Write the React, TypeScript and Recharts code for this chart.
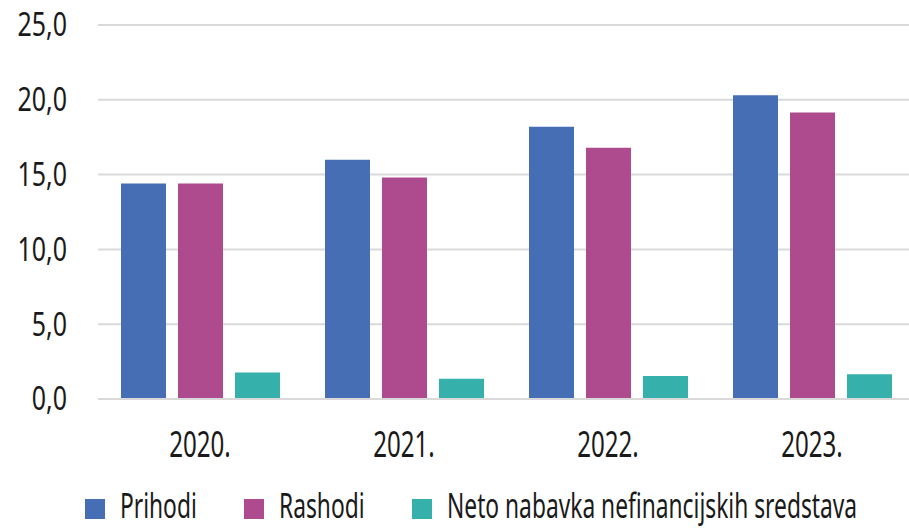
import { BarChart, Bar, XAxis, YAxis, CartesianGrid, Legend } from "recharts";

const years = ["2020.", "2021.", "2022.", "2023."];
const prihodi = [14.4, 16.0, 18.2, 20.3];
const rashodi = [14.4, 14.8, 16.8, 19.15];
const neto = [1.77, 1.35, 1.54, 1.65];
const yTicks = [0, 5, 10, 15, 20, 25];

// no condensed font installed, so the regular one is squeezed horizontally
const FONT = "'Noto Sans', 'DejaVu Sans', sans-serif";
const TEXT = "#1a1a1a";

const series = [
  { key: "prihodi", name: "Prihodi", color: "#466EB4" },
  { key: "rashodi", name: "Rashodi", color: "#AE4B8F" },
  { key: "neto", name: "Neto nabavka nefinancijskih sredstava", color: "#35B0AA" },
];

const data = years.map((year, i) => ({
  year,
  prihodi: prihodi[i],
  rashodi: rashodi[i],
  neto: neto[i],
}));

const fmt = (v: number) => v.toFixed(1).replace(".", ",");

function YTick({ x, y, payload }: any) {
  return (
    <text
      transform={`translate(${x},${y}) scale(0.78,1)`}
      textAnchor="end"
      dy="0.355em"
      fontFamily={FONT}
      fontSize={32}
      fill={TEXT}
    >
      {fmt(payload.value)}
    </text>
  );
}

function XTick({ x, y, payload }: any) {
  return (
    <text
      transform={`translate(${x},${y}) scale(0.67,1)`}
      textAnchor="middle"
      dy="0.71em"
      fontFamily={FONT}
      fontSize={36}
      fill={TEXT}
    >
      {payload.value}
    </text>
  );
}

// legend drawn by hand so spacing follows the original
const LEGEND_X = [85, 244, 412];

function LegendRow() {
  return (
    <svg width={909} height={50} style={{ display: "block", overflow: "visible" }}>
      {series.map((s, i) => (
        <g key={s.key}>
          <rect x={LEGEND_X[i]} y={21} width={20} height={20} fill={s.color} />
          <text
            transform={`translate(${LEGEND_X[i] + 35},40) scale(0.67,1)`}
            fontFamily={FONT}
            fontSize={34}
            fill={TEXT}
          >
            {s.name}
          </text>
        </g>
      ))}
    </svg>
  );
}

export default function App() {
  return (
    <div style={{ position: "absolute", left: 0, top: 0, width: 909, height: 528, overflow: "hidden", background: "#fff" }}>
      <BarChart
        width={916}
        height={528}
        data={data}
        margin={{ top: 25, right: 2, bottom: 0, left: 0 }}
        barSize={45}
        barGap={12}
      >
        <CartesianGrid vertical={false} stroke="#d9d9d9" strokeWidth={2} />
        <XAxis
          dataKey="year"
          height={79}
          axisLine={{ stroke: "#d9d9d9", strokeWidth: 2 }}
          tickLine={false}
          tickSize={0}
          tickMargin={32}
          tick={(props: any) => <XTick {...props} />}
        />
        <YAxis
          width={98}
          domain={[0, 25]}
          ticks={yTicks}
          axisLine={false}
          tickLine={false}
          tickSize={0}
          tickMargin={31}
          tick={(props: any) => <YTick {...props} />}
        />
        <Legend verticalAlign="bottom" content={() => <LegendRow />} />
        {series.map((s) => (
          <Bar key={s.key} dataKey={s.key} name={s.name} fill={s.color} isAnimationActive={false} />
        ))}
      </BarChart>
    </div>
  );
}
